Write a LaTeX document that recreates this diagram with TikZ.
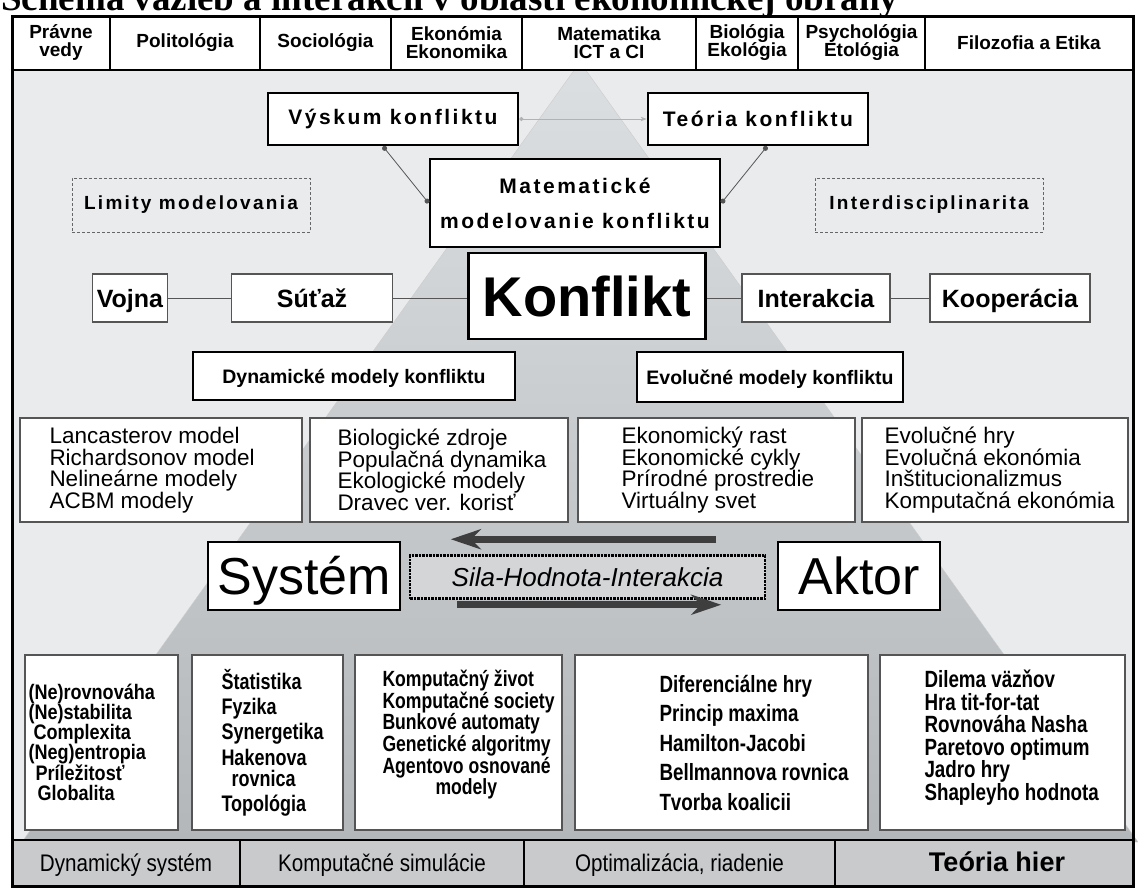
\documentclass[tikz,border=0pt]{standalone}
\usepackage{fontspec}
\setmainfont{Liberation Sans}
\newfontfamily\narrowfont[FakeStretch=0.8]{Liberation Sans}
\newfontfamily\condfont[FakeStretch=0.86]{Liberation Sans}
\newfontfamily\widefont[LetterSpace=12]{Liberation Sans}
\newfontfamily\titlefont{Liberation Serif}
\usetikzlibrary{arrows.meta,positioning}

\definecolor{bgray}{HTML}{E9EBED}
\definecolor{pyrtop}{HTML}{DCDFE2}
\definecolor{pyrbot}{HTML}{B3B7BA}
\definecolor{edgegray}{HTML}{555555}
\definecolor{bargray}{HTML}{C8CACC}
\definecolor{arrgray}{HTML}{3E3E3E}
\definecolor{silafill}{HTML}{D3D5D7}

\tikzset{
  cell/.style={draw=black, line width=1.3pt, fill=white, align=center, inner sep=0pt,
    minimum height=54pt, font=\bfseries\fontsize{19}{18}\selectfont},
  hardbox/.style={draw=black, line width=2.8pt, fill=white, align=center, inner sep=0pt},
  widetext/.style={font=\widefont\bfseries\fontsize{21}{35}\selectfont},
  softbox/.style={draw=edgegray, line width=1.6pt, fill=white, inner sep=0pt,
    minimum height=48pt, text height=19.5pt, text depth=1.5pt,
    font=\bfseries\fontsize{25}{27}\selectfont},
  dashbox/.style={draw=gray!80!black, dash pattern=on 3pt off 2pt, line width=1pt, inner sep=0pt,
    font=\widefont\bfseries\fontsize{19}{21}\selectfont},
  modelbox/.style={hardbox, line width=2.2pt, text height=15pt, text depth=1pt,
    font=\bfseries\fontsize{19.5}{21}\selectfont},
  listbox/.style={draw=edgegray, line width=1.4pt, fill=white, inner sep=0pt, minimum height=104pt},
  listtext/.style={align=left, inner sep=0pt, font=\fontsize{22.5}{21.5}\selectfont},
  lowbox/.style={draw=edgegray, line width=1.4pt, fill=white, inner sep=0pt, minimum height=175pt},
  lowtext/.style={align=left, inner sep=0pt, font=\narrowfont\bfseries\fontsize{22}{20}\selectfont},
  barcell/.style={draw=black, line width=2.4pt, fill=bargray, inner sep=0pt,
    minimum height=46pt, text height=18pt, text depth=1pt, font=\condfont\fontsize{24}{26}\selectfont},
  link/.style={draw=edgegray, line width=0.8pt},
  dotlink/.style={link, {Circle[length=5pt]}-{Circle[length=5pt]}},
  bigarrow/.style={line width=7pt, draw=arrgray, -{Stealth[length=30pt,width=20pt]}}
}

\begin{document}
\begin{tikzpicture}[x=1pt, y=-1pt]
\useasboundingbox (0,0) rectangle (1138,889);
\clip (0,0) rectangle (1138,889);

% title, cut at the top edge
\node[anchor=base west, inner sep=0pt, font=\titlefont\bfseries\fontsize{37}{40}\selectfont] (title) at (1,10)
  {Schéma väzieb a interakcií v oblasti ekonomickej obrany};

% background and pyramid
\fill[bgray] (12,16) rectangle (1133,886);
\shadedraw[top color=pyrtop, bottom color=pyrbot, draw=gray!40] (580,62) -- (22,842) -- (1138,842) -- cycle;

% disciplines
\node[cell, minimum width=98pt] (pravne) at (61,43) {Právne\\vedy};
\node[cell, minimum width=150pt] (polit) at (185,43) {Politológia};
\node[cell, minimum width=131pt] (socio) at (325.5,43) {Sociológia};
\node[cell, minimum width=131pt] (ekon) at (456.5,43) {Ekonómia\\Ekonomika};
\node[cell, minimum width=174pt] (matik) at (609,43) {Matematika\\ICT a CI};
\node[cell, minimum width=102pt] (bio) at (747,43) {Biológia\\Ekológia};
\node[cell, minimum width=127pt] (psych) at (861.5,43) {Psychológia\\Etológia};
\node[cell, minimum width=208pt] (filo) at (1029,43) {Filozofia a Etika};

% research and modelling
\node[hardbox, widetext, minimum width=250pt, minimum height=52pt] (vyskum) at (393,119) {Výskum konfliktu};
\node[hardbox, widetext, minimum width=220pt, minimum height=52pt] (teoria) at (758,119) {Teória konfliktu};
\node[hardbox, widetext, minimum width=290pt, minimum height=88pt] (matem) at (575,203) {Matematické\\modelovanie konfliktu};
\node[dashbox, minimum width=238pt, minimum height=54pt] (limity) at (191,205) {Limity modelovania};
\node[dashbox, minimum width=228pt, minimum height=54pt] (interd) at (929,205) {Interdisciplinarita};

\draw[link, draw=gray!60, {Circle[length=4pt]}-{Stealth[length=6pt]}] (vyskum.east) -- (teoria.west);
\draw[dotlink] ([xshift=-10pt]vyskum.south) -- (matem.west);
\draw[dotlink] ([xshift=9pt]teoria.south) -- (matem.east);

% conflict line
\node[hardbox, minimum width=237pt, minimum height=86pt, text height=42pt, text depth=2pt,
  font=\bfseries\fontsize{56}{60}\selectfont] (konflikt) at (587,296) {Konflikt};
\node[softbox, minimum width=75pt] (vojna) at (130,298) {Vojna};
\node[softbox, minimum width=161pt] (sutaz) at (312,298) {Súťaž};
\node[softbox, minimum width=148pt] (interakcia) at (816,298) {Interakcia};
\node[softbox, minimum width=160pt] (kooperacia) at (1010,298) {Kooperácia};

\draw[link] (vojna.east) -- (sutaz.west);
\draw[link] (sutaz.east) -- (sutaz.east -| konflikt.west);
\draw[link] (interakcia.west -| konflikt.east) -- (interakcia.west);
\draw[link] (interakcia.east) -- (kooperacia.west);

\node[modelbox, minimum width=322pt, minimum height=48pt] (dynam) at (354,376) {Dynamické modely konfliktu};
\node[modelbox, minimum width=266pt, minimum height=50pt] (evol) at (770,377) {Evolučné modely konfliktu};

% model families
\node[listbox, minimum width=282pt] (dynlist) at (161,470) {};
\node[listbox, minimum width=258pt] (biolist) at (439,470) {};
\node[listbox, minimum width=277pt] (ekolist) at (716.5,470) {};
\node[listbox, minimum width=266pt] (evolist) at (995,470) {};
\node[listtext, right=30pt of dynlist.west] (dyntext)
  {Lancasterov model\\Richardsonov model\\Nelineárne modely\\ACBM modely};
\node[listtext, right=28pt of biolist.west] (biotext)
  {Biologické zdroje\\Populačná dynamika\\Ekologické modely\\Dravec ver. korisť};
\node[listtext, right=44pt of ekolist.west] (ekotext)
  {Ekonomický rast\\Ekonomické cykly\\Prírodné prostredie\\Virtuálny svet};
\node[listtext, right=23pt of evolist.west] (evotext)
  {Evolučné hry\\Evolučná ekonómia\\Inštitucionalizmus\\Komputačná ekonómia};

% system and actor
\node[hardbox, minimum width=192pt, minimum height=68pt, text height=40pt, text depth=3pt,
  font=\fontsize{52}{56}\selectfont] (system) at (304,576) {Systém};
\node[hardbox, minimum width=162pt, minimum height=68pt, text height=40pt, text depth=3pt,
  font=\fontsize{52}{56}\selectfont] (aktor) at (859,576) {Aktor};
\node[draw=black, densely dotted, line width=2.5pt, fill=silafill, inner sep=0pt, minimum width=355pt, minimum height=43pt,
  text height=19pt, text depth=1pt, font=\itshape\fontsize{26}{28}\selectfont] (sila) at (587.5,577) {Sila-Hodnota-Interakcia};

\coordinate (aktorin) at ([xshift=-50pt,yshift=15pt]sila.north east);
\coordinate (sysout) at ([xshift=42pt,yshift=15pt]sila.north west);
\coordinate (sysin) at ([xshift=48pt,yshift=-5pt]sila.south west);
\coordinate (aktorout) at ([xshift=-45pt,yshift=-5pt]sila.south east);
\draw[bigarrow] (aktorin) -- (sysout);
\draw[bigarrow] (sysin) -- (aktorout);

% methods
\node[lowbox, minimum width=153pt] (syslist) at (101.5,742.5) {};
\node[lowbox, minimum width=151pt] (fyzlist) at (267.5,742.5) {};
\node[lowbox, minimum width=207pt] (komplist) at (458.5,742.5) {};
\node[lowbox, minimum width=293pt] (optlist) at (721.5,742.5) {};
\node[lowbox, minimum width=245pt] (hrylist) at (1002.5,742.5) {};
\node[lowtext, right=4pt of syslist.west, font=\condfont\bfseries\fontsize{21}{20}\selectfont] (systext)
  {(Ne)rovnováha\\(Ne)stabilita\\\hspace*{5pt}Complexita\\(Neg)entropia\\\hspace*{7pt}Príležitosť\\\hspace*{9pt}Globalita};
\node[lowtext, right=30pt of fyzlist.west, font=\narrowfont\bfseries\fontsize{22.5}{21}\selectfont] (fyztext)
  {Štatistika\\[4pt]Fyzika\\[4pt]Synergetika\\[4pt]Hakenova\\\hspace*{10pt}rovnica\\[4pt]Topológia};
\node[lowtext, right=28pt of komplist.west, yshift=8pt] (komptext)
  {Komputačný život\\Komputačné society\\Bunkové automaty\\Genetické algoritmy\\Agentovo osnované\\\hspace*{53pt}modely};
\node[lowtext, right=85pt of optlist.west, font=\narrowfont\bfseries\fontsize{23.5}{29.5}\selectfont] (opttext)
  {Diferenciálne hry\\Princip maxima\\Hamilton-Jacobi\\Bellmannova rovnica\\Tvorba koalicii};
\node[lowtext, right=45pt of hrylist.west, yshift=5pt, font=\narrowfont\bfseries\fontsize{23.5}{22.5}\selectfont] (hrytext)
  {Dilema väzňov\\Hra tit-for-tat\\Rovnováha Nasha\\Paretovo optimum\\Jadro hry\\Shapleyho hodnota};

% method bar
\node[barcell, minimum width=228pt] (dynsys) at (126,863) {Dynamický systém};
\node[barcell, minimum width=284pt] (kompsim) at (382,863) {Komputačné simulácie};
\node[barcell, minimum width=311pt] (optriad) at (679.5,863) {Optimalizácia, riadenie};
\node[barcell, minimum width=298pt, font=\bfseries\fontsize{27}{29}\selectfont] (teohier) at (984,863) {\hspace*{26pt}Teória hier};

\draw[line width=3pt] (12,16) rectangle (1133,886);
\end{tikzpicture}
\end{document}
